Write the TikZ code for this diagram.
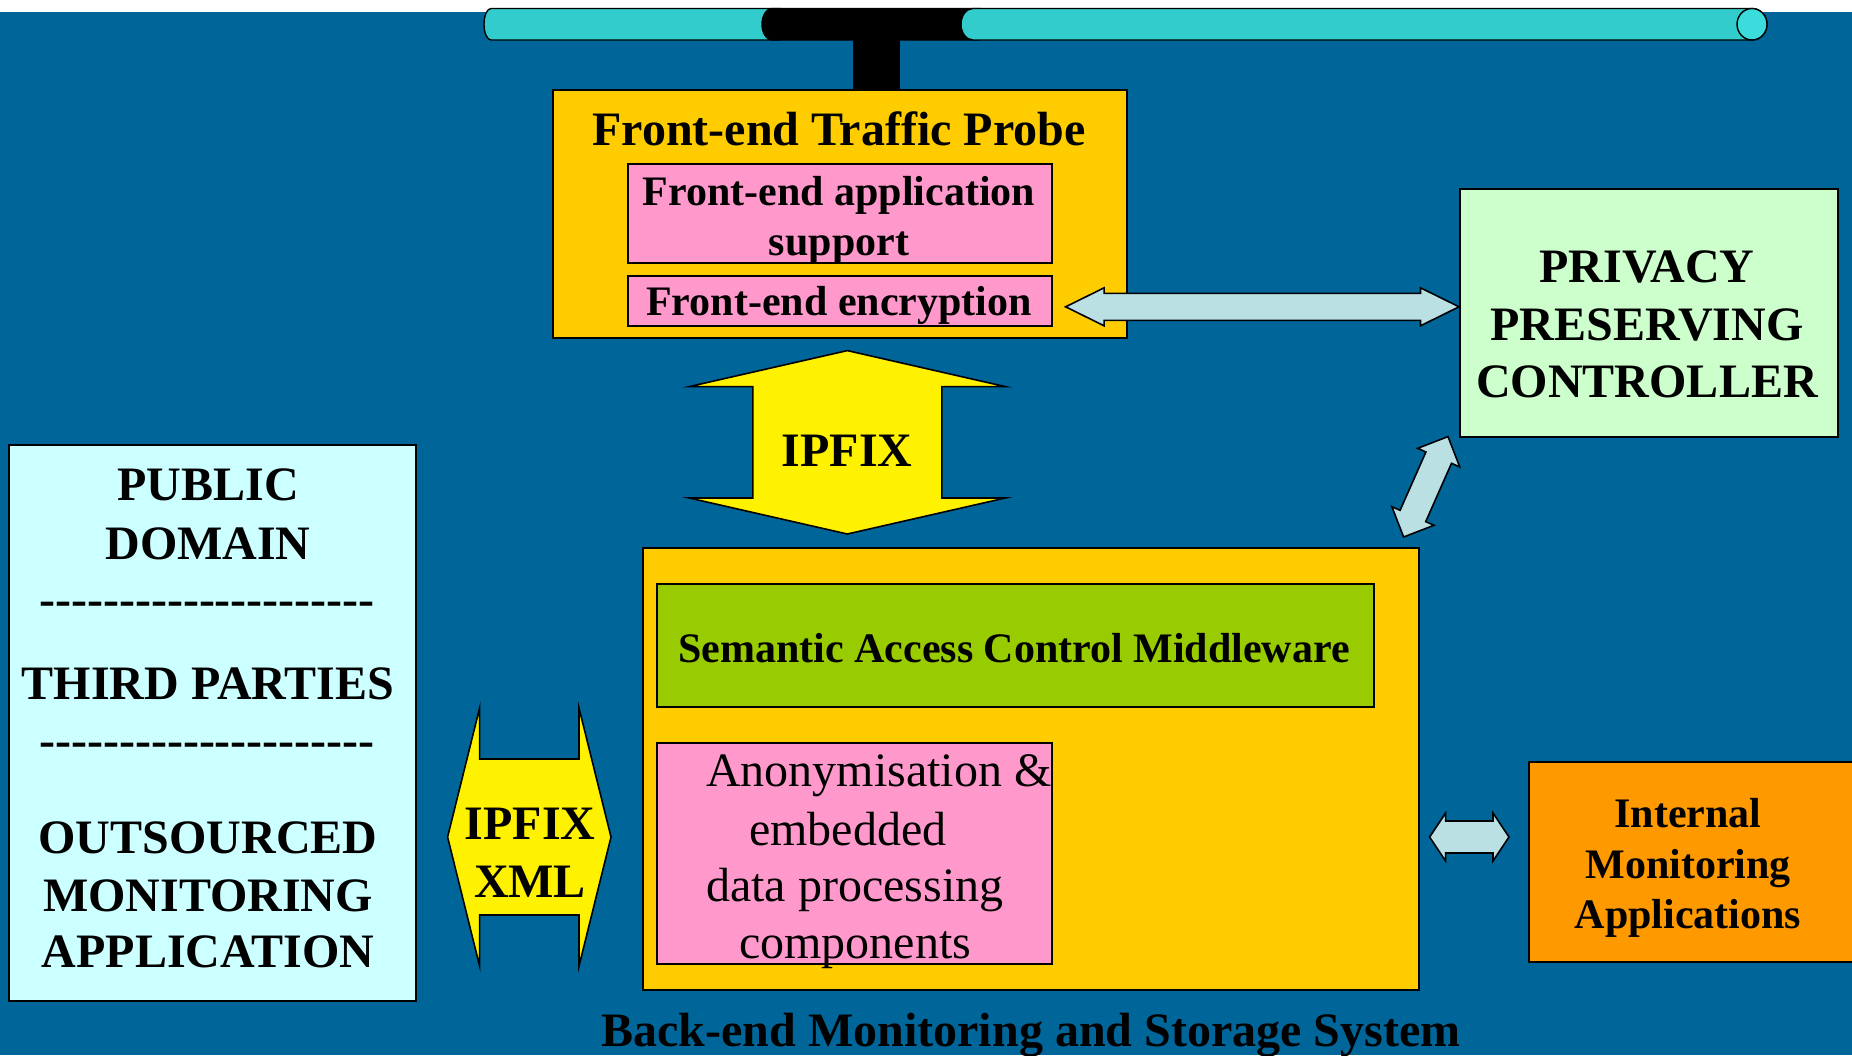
\documentclass[tikz,border=0pt]{standalone}
\usepackage{fontspec}
\setmainfont{Liberation Serif}
\usetikzlibrary{calc}

\definecolor{slideblue}{HTML}{006699}
\definecolor{probeyellow}{HTML}{FFCC00}
\definecolor{pinkbox}{HTML}{FF99CC}
\definecolor{mintbox}{HTML}{CCFFCC}
\definecolor{icebox}{HTML}{CCFFFF}
\definecolor{limebox}{HTML}{99CC00}
\definecolor{orangebox}{HTML}{FF9900}
\definecolor{linkblue}{HTML}{BBE0E3}
\definecolor{pipecyan}{HTML}{33CCCC}
\definecolor{pipecap}{HTML}{3DDCDC}

\tikzset{
  panel/.style={draw=black, line width=1.6pt, inner sep=0pt, anchor=north west},
  bigtxt/.style={font=\fontsize{48}{58}\selectfont\bfseries, inner sep=0pt, anchor=base},
  midtxt/.style={font=\fontsize{42}{50}\selectfont\bfseries, inner sep=0pt, anchor=base},
  plaintxt/.style={font=\fontsize{48}{58}\selectfont, inner sep=0pt, anchor=base west},
  barrow/.style={draw=black, line width=1.6pt, line join=miter},
  pipeline/.style={draw=black, line width=1.4pt},
}

% block double arrow between two points:
% #1 name, #2 tip A, #3 tip B, #4 shaft half width, #5 head half width,
% #6 head length, #7 fill colour
\newcommand\blockarrow[7]{%
  \coordinate (#1-a) at ($(#2)!#6!(#3)$);
  \coordinate (#1-b) at ($(#3)!#6!(#2)$);
  \draw[barrow, fill=#7] (#2)
    -- ($(#1-a)!#5!90:(#3)$) -- ($(#1-a)!#4!90:(#3)$)
    -- ($(#1-b)!#4!-90:(#2)$) -- ($(#1-b)!#5!-90:(#2)$)
    -- (#3)
    -- ($(#1-b)!#5!90:(#2)$) -- ($(#1-b)!#4!90:(#2)$)
    -- ($(#1-a)!#4!-90:(#3)$) -- ($(#1-a)!#5!-90:(#3)$)
    -- cycle;}

% a row of separate hyphens
\newcommand\dashrow{\foreach\k in {1,...,21}{\mbox{-}}}

\begin{document}
\begin{tikzpicture}[x=1pt,y=-1pt]
\useasboundingbox (0,0) rectangle (1852,1055);
\fill[slideblue] (0,0) rectangle (1852,1055);
\fill[white] (0,0) rectangle (1852,12);

% network pipe with the tap
\draw[pipeline, fill=pipecyan] (780,8.5) -- (491,8.5)
  arc[start angle=90, end angle=270, x radius=7pt, y radius=15.75pt] -- (780,40) -- cycle;
\draw[pipeline, fill=black] (980,8.5) -- (772,8.5)
  arc[start angle=90, end angle=270, x radius=10pt, y radius=15.75pt] -- (980,40) -- cycle;
\draw[pipeline, fill=pipecyan] (1752,8.5) -- (973,8.5)
  arc[start angle=90, end angle=270, x radius=12pt, y radius=15.75pt] -- (1752,40)
  arc[start angle=-90, end angle=90, x radius=15pt, y radius=15.75pt] -- cycle;
\draw[pipeline, fill=pipecap] (1752,24.25) ellipse[x radius=15pt, y radius=15.75pt];
\fill[black] (853,38) rectangle (900,90);

% front-end probe
\node[panel, fill=probeyellow, minimum width=574pt, minimum height=248pt] (probe) at (552,89) {};
\node[bigtxt] (probeT) at (839,145.7) {Front-end Traffic Probe};
\node[panel, fill=pinkbox, minimum width=424pt, minimum height=99pt] (app) at (627,163) {};
\node[midtxt] (appT1) at (839,205) {Front-end application};
\node[midtxt] (appT2) at (839,255) {support};
\node[panel, fill=pinkbox, minimum width=424pt, minimum height=50pt] (enc) at (627,275) {};
\node[midtxt] (encT) at (839,315) {Front-end encryption};

% privacy preserving controller
\node[panel, fill=mintbox, minimum width=378pt, minimum height=248pt] (ppc) at (1459,188) {};
\node[bigtxt] (ppcT1) at (1647,282) {PRIVACY};
\node[bigtxt] (ppcT2) at (1647,340) {PRESERVING};
\node[bigtxt] (ppcT3) at (1647,397) {CONTROLLER};

% public domain side
\node[panel, fill=icebox, minimum width=407pt, minimum height=556pt] (pubbox) at (8,444) {};
\node[bigtxt] (pubT1) at (208,500.7) {PUBLIC};
\node[bigtxt] (pubT2) at (208,559) {DOMAIN};
\node[bigtxt] (pubD1) at (207,615) {\dashrow};
\node[bigtxt] (pubT3) at (208,699.5) {THIRD PARTIES};
\node[bigtxt] (pubD2) at (207,756) {\dashrow};
\node[bigtxt] (pubT4) at (208,853) {OUTSOURCED};
\node[bigtxt] (pubT5) at (208,911) {MONITORING};
\node[bigtxt] (pubT6) at (208,967.8) {APPLICATION};

% back-end system
\node[panel, fill=probeyellow, minimum width=776pt, minimum height=442pt] (back) at (642,547) {};
\node[panel, fill=limebox, minimum width=717pt, minimum height=123pt] (sacm) at (656,583) {};
\node[midtxt] (sacmT) at (1014,662) {Semantic Access Control Middleware};
\node[panel, fill=pinkbox, minimum width=395pt, minimum height=221pt] (anon) at (656,742) {};
\node[plaintxt] (anonT1) at (706,786.7) {Anonymisation \&};
\node[plaintxt] (anonT2) at (749,845) {embedded};
\node[plaintxt] (anonT3) at (706,901) {data processing};
\node[plaintxt] (anonT4) at (739,958) {components};
\node[bigtxt] (backT) at (1031,1046.7) {Back-end Monitoring and Storage System};

% internal applications
\node[panel, fill=orangebox, minimum width=340pt, minimum height=200pt] (intl) at (1528,761) {};
\node[midtxt] (intlT1) at (1688,827.5) {Internal};
\node[midtxt] (intlT2) at (1688,878.5) {Monitoring};
\node[midtxt] (intlT3) at (1688,928.5) {Applications};

% IPFIX between probe and back-end
\coordinate (ipA) at ($(probe.south)+(7.5,12)$);
\coordinate (ipB) at ($(ipA |- back.north)+(0,-13)$);
\blockarrow{ip}{ipA}{ipB}{94.5pt}{158pt}{36pt}{yellow}
\node[bigtxt] (ipT) at (847,466.7) {IPFIX};

% IPFIX XML between public domain and back-end
\coordinate (xA) at ($(pubbox.east |- 0,837)+(31,0)$);
\coordinate (xB) at ($(back.west |- 0,837)+(-31,0)$);
\blockarrow{xml}{xA}{xB}{78pt}{129pt}{32pt}{yellow}
\node[bigtxt] (xmlT1) at (530,839) {IPFIX};
\node[bigtxt] (xmlT2) at (530,897) {XML};

% controller links
\coordinate (pA) at ($(enc.east)+(13,6)$);
\coordinate (pB) at (pA -| ppc.west);
\blockarrow{pe}{pA}{pB}{13.5pt}{19pt}{38.5pt}{linkblue}
\coordinate (dA) at ($(back.north east)+(-16,-10)$);
\coordinate (dB) at ($(ppc.south west)+(-11,-1)$);
\blockarrow{pb}{dA}{dB}{14pt}{23pt}{23pt}{linkblue}

% back-end to internal applications
\coordinate (sA) at ($(back.east |- 0,837)+(10,0)$);
\coordinate (sB) at ($(intl.west |- 0,837)+(-19,0)$);
\blockarrow{bi}{sA}{sB}{16pt}{24pt}{16pt}{linkblue}
\end{tikzpicture}
\end{document}
